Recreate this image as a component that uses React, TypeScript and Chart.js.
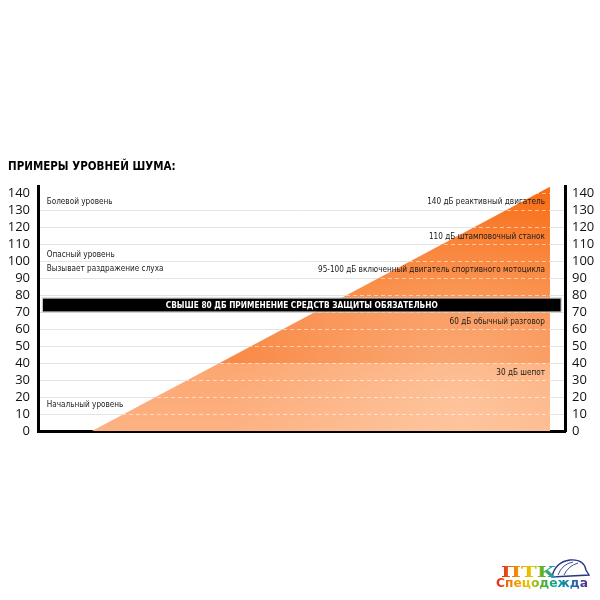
import { useEffect, useRef } from "react";
import { Chart, registerables } from "chart.js";

Chart.register(...registerables);

// noise scale, dB
const yTicks = [0, 10, 20, 30, 40, 50, 60, 70, 80, 90, 100, 110, 120, 130, 140];
const yMax = 144;

// triangle: start and end of the rising level
const levelX = [10.25, 97.15];
const levelY = [0, 143.7];

// colour zones of the fill (dB)
const zoneLimits = [40, 78];

const bandRange = [70.2, 78];
const bandSpan = [0.9, 99.2];
const bandText = "СВЫШЕ 80 ДБ ПРИМЕНЕНИЕ СРЕДСТВ ЗАЩИТЫ ОБЯЗАТЕЛЬНО";

const leftLabels = [
  "Болевой уровень",
  "Опасный уровень",
  "Вызывает раздражение слуха",
  "Начальный уровень",
];
const leftLevels = [134.9, 103.9, 95.3, 15.3];

const rightLabels = [
  "140 дБ реактивный двигатель",
  "110 дБ штамповочный станок",
  "95-100 дБ включенный двигатель спортивного мотоцикла",
  "60 дБ обычный разговор",
  "30 дБ шепот",
];
const rightLevels = [134.9, 114.3, 94.7, 64.3, 34.5];

const overlayPlugin = {
  id: "noiseOverlay",
  afterDatasetsDraw(chart: any) {
    const { ctx, chartArea, scales } = chart;
    const x = scales.x;
    const y = scales.y;
    const pts = chart.getDatasetMeta(0).data;
    if (!pts || pts.length < 2) return;
    const base = y.getPixelForValue(0);

    // inside the triangle: soft light + white dashed grid
    ctx.save();
    ctx.beginPath();
    ctx.moveTo(pts[0].x, pts[0].y);
    ctx.lineTo(pts[1].x, pts[1].y);
    ctx.lineTo(pts[1].x, base);
    ctx.lineTo(pts[0].x, base);
    ctx.closePath();
    ctx.clip();

    const cx = x.getPixelForValue(80);
    const cy = y.getPixelForValue(15);
    const rg = ctx.createRadialGradient(cx, cy, 0, cx, cy, 230);
    rg.addColorStop(0, "rgba(255,236,214,0.35)");
    rg.addColorStop(1, "rgba(255,236,214,0)");
    ctx.fillStyle = rg;
    ctx.fillRect(chartArea.left, chartArea.top, chartArea.width, chartArea.height);

    ctx.setLineDash([4, 3]);
    ctx.lineWidth = 1;
    ctx.strokeStyle = "rgba(255,255,255,0.55)";
    yTicks.forEach((v) => {
      if (v === 0) return;
      const py = Math.round(y.getPixelForValue(v)) + 0.5;
      ctx.beginPath();
      ctx.moveTo(chartArea.left, py);
      ctx.lineTo(chartArea.right, py);
      ctx.stroke();
    });
    ctx.restore();

    // black warning band
    const bx0 = x.getPixelForValue(bandSpan[0]);
    const bx1 = x.getPixelForValue(bandSpan[1]);
    const by0 = y.getPixelForValue(bandRange[1]);
    const by1 = y.getPixelForValue(bandRange[0]);
    ctx.save();
    ctx.fillStyle = "#000";
    ctx.fillRect(bx0, by0, bx1 - bx0, by1 - by0);
    ctx.strokeStyle = "#c8c8c8";
    ctx.lineWidth = 1;
    ctx.strokeRect(bx0 - 0.5, by0 - 0.5, bx1 - bx0 + 1, by1 - by0 + 1);
    ctx.fillStyle = "#fff";
    ctx.font = "bold 9.5px 'DejaVu Sans'";
    ctx.textAlign = "center";
    ctx.textBaseline = "middle";
    ctx.fillText(bandText, (bx0 + bx1) / 2, (by0 + by1) / 2 + 0.5, 272);

    // notes
    ctx.fillStyle = "#1a1a1a";
    ctx.font = "8.5px 'DejaVu Sans'";
    ctx.textAlign = "left";
    leftLabels.forEach((t, i) => {
      const w = ctx.measureText(t).width;
      ctx.fillText(t, x.getPixelForValue(1.65), y.getPixelForValue(leftLevels[i]), w * 0.86);
    });
    ctx.textAlign = "right";
    rightLabels.forEach((t, i) => {
      const w = ctx.measureText(t).width;
      ctx.fillText(t, x.getPixelForValue(96.2), y.getPixelForValue(rightLevels[i]), w * 0.86);
    });
    ctx.restore();
  },
};

function NoiseChart() {
  const chartRef = useRef<HTMLCanvasElement>(null);
  const chartInstance = useRef<Chart | null>(null);

  useEffect(() => {
    if (!chartRef.current) return;
    if (chartInstance.current) chartInstance.current.destroy();

    const tickFont = { family: "'Open Sans'", size: 13 };

    chartInstance.current = new Chart(chartRef.current, {
      type: "line",
      data: {
        datasets: [
          {
            data: levelX.map((v, i) => ({ x: v, y: levelY[i] })),
            borderWidth: 0,
            pointRadius: 0,
            fill: "origin",
            clip: false,
            backgroundColor: (c: any) => {
              const { ctx, chartArea, scales } = c.chart;
              if (!chartArea) return "#f98a47";
              const y0 = scales.y.getPixelForValue(0);
              const y1 = scales.y.getPixelForValue(yMax);
              const g = ctx.createLinearGradient(0, y0, 0, y1);
              const a = zoneLimits[0] / yMax;
              const b = zoneLimits[1] / yMax;
              g.addColorStop(0, "#fdb283");
              g.addColorStop(a - 0.001, "#fca670");
              g.addColorStop(a, "#f98a47");
              g.addColorStop(b - 0.001, "#f98c4a");
              g.addColorStop(b, "#f9843a");
              g.addColorStop(1, "#f96c14");
              return g;
            },
          } as any,
        ],
      },
      options: {
        animation: false,
        responsive: true,
        maintainAspectRatio: false,
        layout: { padding: { top: 0, left: 8, right: 5, bottom: 169 } },
        scales: {
          x: {
            type: "linear",
            min: 0,
            max: 100,
            grid: { display: false },
            ticks: { display: false },
            border: { display: true, color: "#000", width: 3 },
            afterFit: (s: any) => {
              s.height = 0;
            },
          },
          y: {
            position: "left",
            min: 0,
            max: yMax,
            afterBuildTicks: (s: any) => {
              s.ticks = yTicks.map((v) => ({ value: v }));
            },
            ticks: { font: tickFont, color: "#111", padding: 8, autoSkip: false },
            grid: {
              drawTicks: false,
              color: (c: any) => (c.tick && c.tick.value === 140 ? "rgba(0,0,0,0)" : "#e4e4e4"),
            },
            border: { color: "#000", width: 3 },
            afterFit: (s: any) => {
              s.width = 30;
            },
          },
          y2: {
            position: "right",
            min: 0,
            max: yMax,
            afterBuildTicks: (s: any) => {
              s.ticks = yTicks.map((v) => ({ value: v }));
            },
            ticks: { font: tickFont, color: "#111", padding: 7, autoSkip: false },
            grid: { display: false, drawTicks: false },
            border: { color: "#000", width: 3 },
            afterFit: (s: any) => {
              s.width = 30;
            },
          },
        },
        plugins: {
          legend: { display: false },
          tooltip: { enabled: false },
          title: {
            display: true,
            text: "ПРИМЕРЫ УРОВНЕЙ ШУМА:",
            align: "start",
            color: "#000",
            font: { family: "'DejaVu Sans Condensed', 'Liberation Sans'", size: 11.5, weight: "bold" },
            padding: { top: 160, bottom: 12.4 },
          },
        },
      },
      plugins: [overlayPlugin],
    } as any);

    return () => {
      if (chartInstance.current) {
        chartInstance.current.destroy();
        chartInstance.current = null;
      }
    };
  }, []);

  return <canvas ref={chartRef} />;
}

function Logo() {
  return (
    <svg
      width={122}
      height={44}
      viewBox="0 0 122 44"
      style={{ position: "absolute", left: 478, top: 550 }}
    >
      <defs>
        <linearGradient id="ptk" x1="0" y1="0" x2="1" y2="0">
          <stop offset="0" stopColor="#e52521" />
          <stop offset="0.3" stopColor="#f39200" />
          <stop offset="0.55" stopColor="#e6c800" />
          <stop offset="0.75" stopColor="#5bb030" />
          <stop offset="1" stopColor="#0096d6" />
        </linearGradient>
        <linearGradient id="spec" x1="0" y1="0" x2="1" y2="0">
          <stop offset="0" stopColor="#e52521" />
          <stop offset="0.2" stopColor="#f39200" />
          <stop offset="0.35" stopColor="#e8c500" />
          <stop offset="0.5" stopColor="#5bb030" />
          <stop offset="0.65" stopColor="#00a19a" />
          <stop offset="0.82" stopColor="#1e71b8" />
          <stop offset="1" stopColor="#5b2a86" />
        </linearGradient>
      </defs>
      <path
        d="M74 27 Q77 12 92 10 Q106 9 108 20 L111 25 Z"
        fill="#fff"
        stroke="#27358a"
        strokeWidth={1.4}
      />
      <path d="M80 25 Q84 14 95 12" fill="none" stroke="#27358a" strokeWidth={0.9} />
      <path d="M86 25 Q90 16 100 13" fill="none" stroke="#27358a" strokeWidth={0.9} />
      <text
        x={23}
        y={27}
        fontFamily="'DejaVu Serif'"
        fontWeight="bold"
        fontSize={15}
        textLength={55}
        lengthAdjust="spacingAndGlyphs"
        fill="url(#ptk)"
      >
        ПТК
      </text>
      <text
        x={18}
        y={37}
        fontFamily="'DejaVu Sans'"
        fontWeight="bold"
        fontSize={12}
        textLength={92}
        lengthAdjust="spacingAndGlyphs"
        fill="url(#spec)"
      >
        Спецодежда
      </text>
    </svg>
  );
}

export default function App() {
  return (
    <div
      style={{
        position: "absolute",
        left: 0,
        top: 0,
        width: 600,
        height: 600,
        background: "#fff",
      }}
    >
      <div style={{ position: "absolute", left: 0, top: 0, width: 600, height: 600 }}>
        <NoiseChart />
      </div>
      <Logo />
    </div>
  );
}
